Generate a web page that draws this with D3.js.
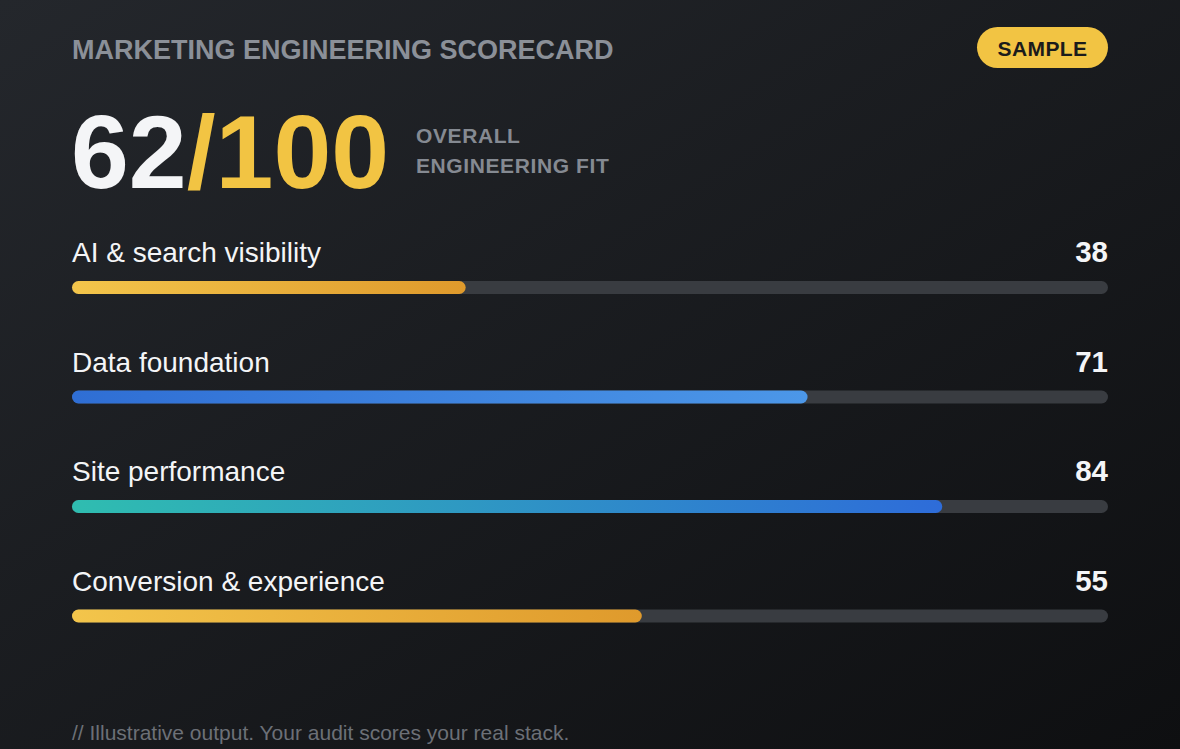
<!DOCTYPE html>
<html>
<head>
<meta charset="utf-8">
<script src="https://cdn.jsdelivr.net/npm/d3@7/dist/d3.min.js"></script>
<style>
html,body{margin:0;padding:0;background:#16181b;overflow:hidden;}
svg{display:block;}
text{font-family:"Liberation Sans",Arial,Helvetica,sans-serif;}
</style>
</head>
<body>
<svg id="chart" width="1180" height="749"></svg>
<script>
const title = "MARKETING ENGINEERING SCORECARD";
const badgeText = "SAMPLE";
const overallScore = 62;
const overallMax = 100;
const overallLabel = ["OVERALL", "ENGINEERING FIT"];
const categories = ["AI & search visibility", "Data foundation", "Site performance", "Conversion & experience"];
const scores = [38, 71, 84, 55];
const palettes = ["gold", "blue", "teal", "gold"];
const footnote = "// Illustrative output. Your audit scores your real stack.";

const W = 1180, H = 749;
const svg = d3.select("#chart");
const defs = svg.append("defs");

const bg = defs.append("linearGradient").attr("id", "bg")
  .attr("x1", "0").attr("y1", "0").attr("x2", "1").attr("y2", "1");
bg.append("stop").attr("offset", "0").attr("stop-color", "#24272c");
bg.append("stop").attr("offset", "1").attr("stop-color", "#0e0f11");

const grads = {
  gold: ["#f3c54b", "#df9a2c"],
  blue: ["#2f6ed4", "#4c97e8"],
  teal: ["#2fbdb0", "#2e6cd9"]
};
Object.entries(grads).forEach(([k, c]) => {
  const g = defs.append("linearGradient").attr("id", "g-" + k)
    .attr("x1", "0").attr("y1", "0").attr("x2", "1").attr("y2", "0");
  g.append("stop").attr("offset", "0").attr("stop-color", c[0]);
  g.append("stop").attr("offset", "1").attr("stop-color", c[1]);
});

svg.append("rect").attr("width", W).attr("height", H).attr("fill", "url(#bg)");

// Header
svg.append("text").attr("x", 72).attr("y", 59)
  .attr("font-size", 27).attr("font-weight", 700).attr("fill", "#8b9098")
  .text(title);

const badge = svg.append("g");
badge.append("rect").attr("x", 977).attr("y", 27).attr("width", 131).attr("height", 41)
  .attr("rx", 20.5).attr("fill", "#f2c443");
badge.append("text").attr("x", 1042.5).attr("y", 56).attr("text-anchor", "middle")
  .attr("font-size", 21).attr("font-weight", 700).attr("letter-spacing", 0.4)
  .attr("fill", "#1b1b1b").text(badgeText);

// Big score
const big = svg.append("text").attr("x", 71).attr("y", 188)
  .attr("font-size", 104).attr("font-weight", 700);
big.append("tspan").attr("fill", "#f4f5f7").text(overallScore);
big.append("tspan").attr("fill", "#f2c443").text("/" + overallMax);

svg.selectAll("text.ov").data(overallLabel).join("text").attr("class", "ov")
  .attr("x", 416).attr("y", (d, i) => 143 + i * 30)
  .attr("font-size", 21).attr("font-weight", 700).attr("letter-spacing", 0.6)
  .attr("fill", "#858a92").text(d => d);

// Bars
const x = d3.scaleLinear().domain([0, 100]).range([72, 1108]);
const y = d3.scaleLinear().domain([0, categories.length - 1]).range([262, 590.5]);
const barOffset = 19, barH = 13;

const rows = svg.selectAll("g.row").data(categories.map((c, i) => ({c, v: scores[i], p: palettes[i], i})))
  .join("g").attr("class", "row");

rows.append("text").attr("x", x(0)).attr("y", d => y(d.i))
  .attr("font-size", 28).attr("fill", "#f4f5f7").text(d => d.c);
rows.append("text").attr("x", x(100)).attr("y", d => y(d.i)).attr("text-anchor", "end")
  .attr("font-size", 29.5).attr("font-weight", 700).attr("fill", "#f4f5f7").text(d => d.v);
rows.append("rect").attr("x", x(0)).attr("y", d => y(d.i) + barOffset)
  .attr("width", x(100) - x(0)).attr("height", barH).attr("rx", barH / 2)
  .attr("fill", "#393c41");
rows.append("rect").attr("x", x(0)).attr("y", d => y(d.i) + barOffset)
  .attr("width", d => x(d.v) - x(0)).attr("height", barH).attr("rx", barH / 2)
  .attr("fill", d => "url(#g-" + d.p + ")");

svg.append("text").attr("x", 72).attr("y", 740)
  .attr("font-size", 21).attr("fill", "#6c7077").text(footnote);
</script>
</body>
</html>
